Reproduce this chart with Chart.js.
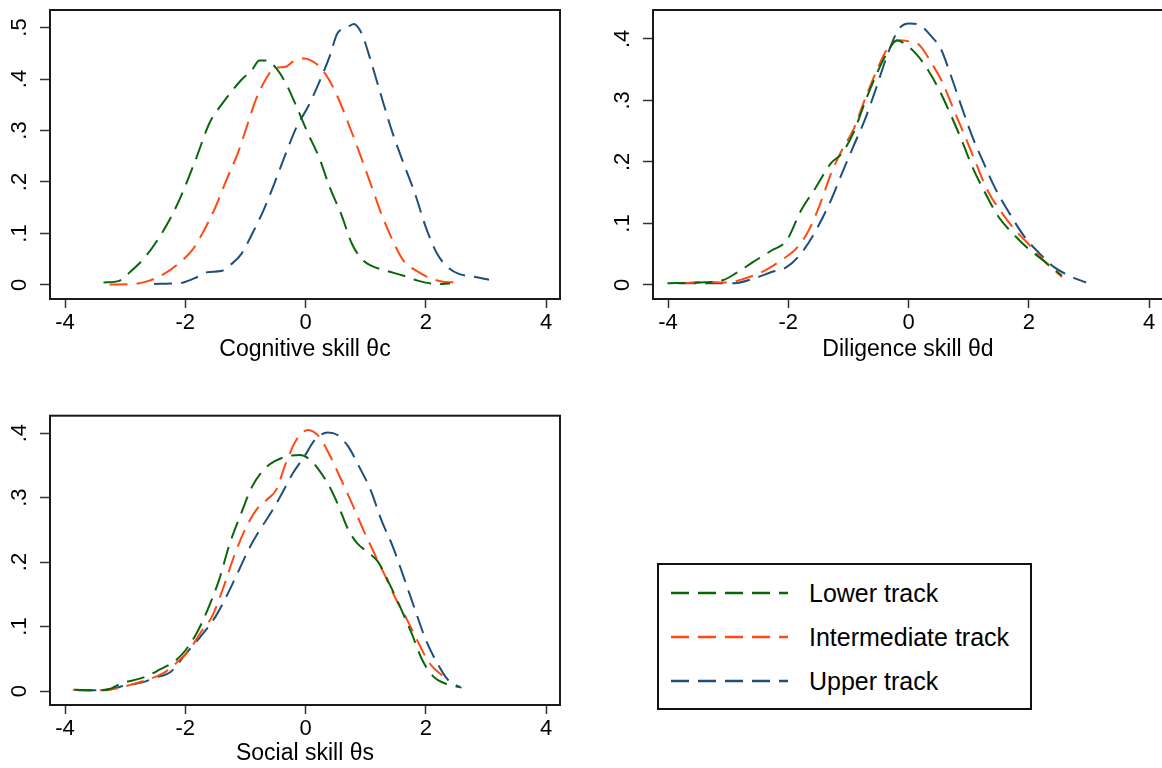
<!DOCTYPE html>
<html><head><meta charset="utf-8">
<script src="https://cdn.jsdelivr.net/npm/chart.js@4.4.1/dist/chart.umd.min.js"></script>
<style>
html,body{margin:0;padding:0;background:#fff;width:1162px;height:768px;overflow:hidden;}
body{position:relative;}
canvas{position:absolute;display:block;}
#legend{position:absolute;left:657px;top:563px;width:371px;height:143px;border:2px solid #111;font-family:'Liberation Sans',Arial,sans-serif;font-size:25px;color:#000;}
#legend .row{position:absolute;left:0;height:30px;}
#legend svg{position:absolute;left:12px;top:0;}
#legend span{position:absolute;left:150px;top:0;line-height:30px;white-space:nowrap;}
</style></head><body>
<canvas id="c1" width="580" height="380" style="left:0;top:0"></canvas>
<canvas id="c2" width="580" height="380" style="left:603px;top:0"></canvas>
<canvas id="c3" width="580" height="368" style="left:0;top:400px"></canvas>
<div id="legend"></div>
<script>
// ---------- data ----------
const seriesNames = ['Lower track', 'Intermediate track', 'Upper track'];
const seriesColors = ['#0b660b', '#ff4a14', '#1f4e79'];

const xTicks = [-4, -2, 0, 2, 4];
const xTickLabels = ['-4', '-2', '0', '2', '4'];

const yTicksCog = [0, 0.1, 0.2, 0.3, 0.4, 0.5];
const yTickLabelsCog = ['0', '.1', '.2', '.3', '.4', '.5'];
const yTicksDil = [0, 0.1, 0.2, 0.3, 0.4];
const yTickLabelsDil = ['0', '.1', '.2', '.3', '.4'];
const yTicksSoc = [0, 0.1, 0.2, 0.3, 0.4];
const yTickLabelsSoc = ['0', '.1', '.2', '.3', '.4'];

const titles = ['Cognitive skill θc', 'Diligence skill θd', 'Social skill θs'];

// Cognitive skill densities [x, density]
const cogLower = [[-3.36,0.005],[-3.10,0.008],[-2.92,0.025],[-2.67,0.054],[-2.43,0.093],[-2.21,0.138],[-2.03,0.184],[-1.81,0.249],[-1.60,0.314],[-1.38,0.353],[-1.07,0.398],[-0.89,0.418],[-0.77,0.436],[-0.64,0.436],[-0.49,0.421],[-0.33,0.392],[-0.15,0.346],[0.04,0.294],[0.22,0.249],[0.40,0.190],[0.59,0.138],[0.77,0.080],[0.93,0.051],[1.08,0.038],[1.33,0.028],[1.63,0.018],[1.88,0.008],[2.19,0.002],[2.40,0.003]];
const cogInter = [[-3.26,0.001],[-2.86,0.002],[-2.61,0.008],[-2.36,0.021],[-2.12,0.041],[-1.87,0.070],[-1.69,0.106],[-1.50,0.151],[-1.32,0.203],[-1.13,0.255],[-0.98,0.307],[-0.83,0.359],[-0.67,0.398],[-0.52,0.421],[-0.33,0.424],[-0.21,0.434],[-0.03,0.440],[0.16,0.431],[0.34,0.408],[0.53,0.366],[0.71,0.314],[0.90,0.255],[1.08,0.197],[1.26,0.138],[1.45,0.086],[1.63,0.047],[1.88,0.025],[2.06,0.014],[2.31,0.006],[2.56,0.005]];
const cogUpper = [[-2.52,0.002],[-2.24,0.003],[-2.03,0.005],[-1.81,0.015],[-1.63,0.025],[-1.41,0.027],[-1.23,0.041],[-1.07,0.060],[-0.89,0.099],[-0.70,0.145],[-0.52,0.197],[-0.33,0.255],[-0.15,0.307],[0.04,0.346],[0.22,0.392],[0.40,0.444],[0.53,0.489],[0.68,0.499],[0.80,0.507],[0.93,0.489],[1.08,0.437],[1.26,0.366],[1.45,0.294],[1.63,0.236],[1.82,0.177],[2.00,0.112],[2.19,0.060],[2.37,0.034],[2.56,0.021],[2.80,0.016],[3.05,0.010]];

// Diligence skill densities
const dilLower = [[-4.01,0.003],[-3.46,0.004],[-3.08,0.008],[-2.84,0.021],[-2.59,0.037],[-2.28,0.056],[-2.03,0.072],[-1.79,0.121],[-1.54,0.159],[-1.29,0.198],[-1.11,0.214],[-0.92,0.247],[-0.73,0.296],[-0.55,0.339],[-0.36,0.377],[-0.19,0.398],[-0.05,0.391],[0.14,0.374],[0.32,0.350],[0.51,0.317],[0.69,0.279],[0.88,0.236],[1.06,0.192],[1.25,0.154],[1.50,0.110],[1.74,0.083],[1.99,0.059],[2.24,0.040],[2.55,0.015]];
const dilInter = [[-3.77,0.003],[-3.39,0.005],[-3.02,0.004],[-2.71,0.011],[-2.40,0.023],[-2.09,0.042],[-1.85,0.061],[-1.66,0.089],[-1.47,0.132],[-1.29,0.181],[-1.11,0.219],[-0.92,0.252],[-0.73,0.301],[-0.55,0.344],[-0.36,0.383],[-0.16,0.398],[0.01,0.396],[0.17,0.391],[0.38,0.361],[0.57,0.328],[0.75,0.285],[0.94,0.241],[1.12,0.198],[1.31,0.154],[1.56,0.116],[1.80,0.086],[1.99,0.067],[2.24,0.040],[2.55,0.013]];
const dilUpper = [[-3.83,0.003],[-3.33,0.003],[-2.90,0.003],[-2.59,0.010],[-2.28,0.021],[-2.03,0.029],[-1.79,0.051],[-1.54,0.089],[-1.29,0.138],[-1.11,0.181],[-0.92,0.225],[-0.73,0.268],[-0.55,0.317],[-0.36,0.372],[-0.17,0.415],[0.01,0.425],[0.17,0.423],[0.38,0.404],[0.54,0.383],[0.69,0.344],[0.88,0.290],[1.06,0.241],[1.25,0.198],[1.43,0.159],[1.68,0.116],[1.93,0.078],[2.18,0.051],[2.42,0.029],[2.67,0.015],[2.95,0.004]];

// Social skill densities
const socLower = [[-3.84,0.002],[-3.47,0.001],[-3.23,0.004],[-3.04,0.013],[-2.89,0.016],[-2.67,0.022],[-2.43,0.033],[-2.18,0.046],[-1.99,0.064],[-1.81,0.090],[-1.63,0.126],[-1.44,0.172],[-1.26,0.229],[-1.07,0.276],[-0.89,0.317],[-0.70,0.343],[-0.52,0.356],[-0.30,0.364],[-0.09,0.366],[0.07,0.359],[0.22,0.343],[0.38,0.320],[0.53,0.291],[0.71,0.250],[0.86,0.229],[1.05,0.214],[1.20,0.201],[1.39,0.167],[1.57,0.131],[1.76,0.090],[1.94,0.048],[2.13,0.022],[2.31,0.012],[2.56,0.006]];
const socInter = [[-3.87,0.002],[-3.59,0.001],[-3.35,0.001],[-3.10,0.005],[-2.86,0.011],[-2.61,0.018],[-2.36,0.028],[-2.12,0.046],[-1.93,0.064],[-1.75,0.090],[-1.56,0.115],[-1.38,0.157],[-1.19,0.209],[-1.01,0.250],[-0.82,0.281],[-0.64,0.297],[-0.49,0.312],[-0.33,0.353],[-0.15,0.390],[0.04,0.405],[0.22,0.395],[0.41,0.364],[0.59,0.328],[0.77,0.291],[0.96,0.250],[1.14,0.214],[1.33,0.177],[1.51,0.141],[1.69,0.110],[1.88,0.074],[2.06,0.043],[2.31,0.021]];
const socUpper = [[-3.78,0.001],[-3.47,0.001],[-3.23,0.003],[-2.98,0.009],[-2.73,0.013],[-2.49,0.021],[-2.24,0.030],[-1.99,0.058],[-1.75,0.084],[-1.50,0.115],[-1.32,0.146],[-1.13,0.183],[-0.95,0.219],[-0.76,0.250],[-0.58,0.276],[-0.39,0.307],[-0.21,0.338],[-0.02,0.364],[0.16,0.390],[0.37,0.401],[0.53,0.397],[0.71,0.379],[0.89,0.348],[1.08,0.312],[1.26,0.265],[1.45,0.224],[1.63,0.177],[1.82,0.126],[2.00,0.079],[2.19,0.043],[2.37,0.017],[2.59,0.005]];

// ---------- drawing ----------
const FONT = "'Liberation Sans', Arial, sans-serif";
const DASH = [18, 9];

const framePlugin = {
  id: 'frame',
  beforeDatasetsDraw(chart) {
    const {ctx, chartArea: a} = chart;
    ctx.save();
    ctx.strokeStyle = '#1a1a1a';
    ctx.lineWidth = 2;
    ctx.strokeRect(a.left, a.top, a.right - a.left, a.bottom - a.top);
    ctx.restore();
  }
};

function toPts(arr) { return arr.map(p => ({x: p[0], y: p[1]})); }
function noPad(s) { s.paddingTop = 0; s.paddingBottom = 0; s.paddingLeft = 0; s.paddingRight = 0; }

function makePanel(id, series, yMin, yMax, yTicks, yLabels, title, padTop, xAxisHeight, titlePadBottom) {
  new Chart(document.getElementById(id), {
    type: 'line',
    data: {
      datasets: series.map((s, i) => ({
        label: seriesNames[i],
        data: toPts(s),
        borderColor: seriesColors[i],
        borderWidth: 2,
        borderDash: DASH,
        pointRadius: 0,
        fill: false,
        cubicInterpolationMode: 'monotone'
      }))
    },
    options: {
      responsive: false,
      animation: false,
      events: [],
      layout: { padding: { top: padTop, right: 20, left: 0, bottom: 0 } },
      plugins: { legend: { display: false }, tooltip: { enabled: false }, title: { display: false } },
      scales: {
        x: {
          type: 'linear', min: -4.25, max: 4.23,
          afterBuildTicks: s => { s.ticks = xTicks.map(v => ({value: v})); },
          afterFit: s => { s.height = xAxisHeight; noPad(s); },
          ticks: {
            autoSkip: false, maxRotation: 0, minRotation: 0, padding: 1.5, color: '#000',
            font: { family: FONT, size: 22 },
            callback: v => xTickLabels[xTicks.indexOf(v)]
          },
          grid: { display: true, drawOnChartArea: false, drawTicks: true, tickLength: 9, tickColor: '#333', tickWidth: 1.5 },
          border: { display: false },
          title: { display: true, text: title, color: '#000', font: { family: FONT, size: 23 }, padding: { top: 0, bottom: titlePadBottom } }
        },
        y: {
          type: 'linear', min: yMin, max: yMax,
          afterBuildTicks: s => { s.ticks = yTicks.map(v => ({value: v})); },
          afterFit: s => { s.width = 50; noPad(s); },
          ticks: {
            autoSkip: false, minRotation: 90, maxRotation: 90, crossAlign: 'center', padding: 11, color: '#000',
            font: { family: FONT, size: 22 },
            callback: v => yLabels[yTicks.findIndex(t => Math.abs(t - v) < 1e-9)]
          },
          grid: { display: true, drawOnChartArea: false, drawTicks: true, tickLength: 10, tickColor: '#333', tickWidth: 1.5 },
          border: { display: false }
        }
      }
    },
    plugins: [framePlugin]
  });
}

makePanel('c1', [cogLower, cogInter, cogUpper], -0.0272, 0.534, yTicksCog, yTickLabelsCog, titles[0], 10, 81, 17);
makePanel('c2', [dilLower, dilInter, dilUpper], -0.0228, 0.447, yTicksDil, yTickLabelsDil, titles[1], 10, 81, 17);
makePanel('c3', [socLower, socInter, socUpper], -0.0217, 0.427, yTicksSoc, yTickLabelsSoc, titles[2], 15.7, 63, 0.2);

// legend
const leg = document.getElementById('legend');
const rowTops = [13, 57, 101];
seriesNames.forEach((name, i) => {
  const row = document.createElement('div');
  row.className = 'row';
  row.style.top = rowTops[i] + 'px';
  row.style.width = '371px';
  row.innerHTML = '<svg width="118" height="30"><line x1="0" y1="15" x2="117" y2="15" stroke="' + seriesColors[i] +
    '" stroke-width="2.5" stroke-dasharray="18 9"/></svg><span>' + name + '</span>';
  leg.appendChild(row);
});
</script>
</body></html>
